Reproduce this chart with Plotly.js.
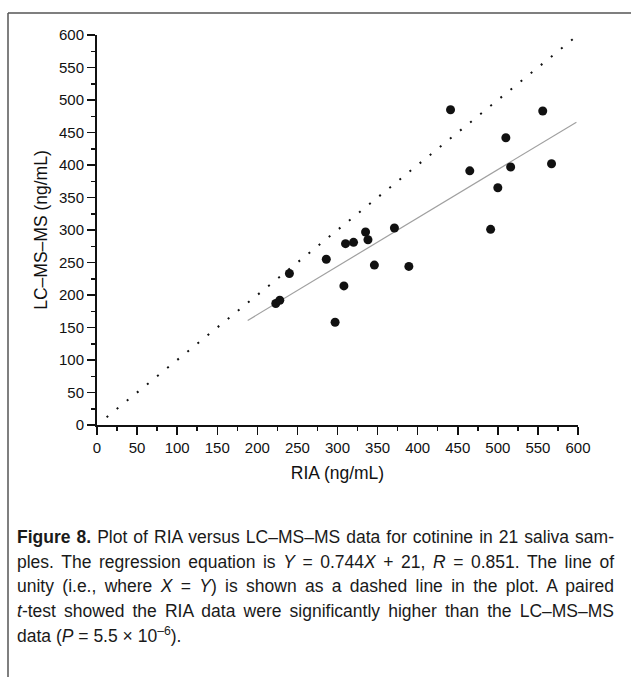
<!DOCTYPE html>
<html>
<head>
<meta charset="utf-8">
<script src="https://cdn.plot.ly/plotly-3.0.1.min.js"></script>
<style>
  html, body { margin: 0; padding: 0; background: #fff; }
  #chart { width: 631px; height: 677px; }
</style>
</head>
<body>
<div id="chart"></div>
<script>
// ---- data ----
const riaValues  = [223, 228, 240, 286, 297, 308, 310, 320, 335, 338, 346, 371, 389, 441, 465, 491, 500, 510, 516, 556, 567];
const lcmsValues = [187, 192, 233, 255, 158, 214, 279, 281, 297, 285, 246, 303, 244, 485, 391, 301, 365, 442, 397, 483, 402];

const regSlope = 0.744;
const regIntercept = 21;
const regXRange = [188, 598];     // extent of the drawn regression line
const unityXRange = [12, 597];    // extent of the drawn line of unity

const xTickValues = [0, 50, 100, 150, 200, 250, 300, 350, 400, 450, 500, 550, 600];
const yTickValues = [0, 50, 100, 150, 200, 250, 300, 350, 400, 450, 500, 550, 600];

const xAxisTitle = 'RIA (ng/mL)';
const yAxisTitle = 'LC–MS–MS (ng/mL)';

const captionLines = [
  '<b>Figure 8.</b> Plot of RIA versus LC–MS–MS data for cotinine in 21 saliva sam-',
  'ples. The regression equation is <i>Y</i> = 0.744<i>X</i> + 21, <i>R</i> = 0.851. The line of',
  'unity (i.e., where <i>X</i> = <i>Y</i>) is shown as a dashed line in the plot. A paired',
  '<i>t</i>-test showed the RIA data were significantly higher than the LC–MS–MS',
  'data (<i>P</i> = 5.5 × 10<sup>–6</sup>).'
];
const justifiedLines = [true, true, true, true, false];

// ---- layout geometry ----
const W = 631, H = 677;
const M = {l: 97, r: 53, t: 35, b: 252};
const plotW = W - M.l - M.r, plotH = H - M.t - M.b;
const px2x = px => (px - M.l) / plotW;
const px2y = py => (H - M.b - py) / plotH;
const captionLeft = 15, captionRight = 612;

const FONT = '"Liberation Sans", Arial, Helvetica, sans-serif';

const regY = regXRange.map(x => regSlope * x + regIntercept);

const traces = [
  {
    x: unityXRange, y: unityXRange, mode: 'lines', type: 'scatter',
    line: {color: '#111', width: 2, dash: '2px,11px'}, hoverinfo: 'skip', showlegend: false
  },
  {
    x: regXRange, y: regY, mode: 'lines', type: 'scatter',
    line: {color: '#a0a0a0', width: 1.2}, hoverinfo: 'skip', showlegend: false
  },
  {
    x: riaValues, y: lcmsValues, mode: 'markers', type: 'scatter',
    marker: {color: '#111', size: 9}, showlegend: false, cliponaxis: false
  }
];

function axisCommon(tickvals) {
  return {
    range: [0, 600], tickvals: tickvals, ticktext: tickvals.map(String),
    showline: true, linewidth: 2, linecolor: '#111', mirror: false,
    ticks: 'outside', ticklen: 8, tickwidth: 1.5, tickcolor: '#111',
    minor: {dtick: 25, tick0: 0, ticks: 'outside', ticklen: 4, tickwidth: 1.5, tickcolor: '#111', showgrid: false},
    showgrid: false, zeroline: false, fixedrange: true,
    tickfont: {family: FONT, size: 15, color: '#111'}
  };
}

const captionY = [537, 561.5, 586, 610.5, 635];
const annotations = captionLines.map((t, i) => ({
  text: t, xref: 'paper', yref: 'paper',
  x: px2x(captionLeft), y: px2y(captionY[i]), xanchor: 'left', yanchor: 'middle',
  showarrow: false, align: 'left',
  font: {family: FONT, size: 17.5, color: '#1a1a1a'}
}));

const shapes = [
  {type: 'line', xref: 'paper', yref: 'paper', x0: px2x(8), x1: px2x(8), y0: px2y(13), y1: px2y(H + 5),
   line: {color: '#555', width: 1.5}},
  {type: 'line', xref: 'paper', yref: 'paper', x0: px2x(8), x1: px2x(W + 5), y0: px2y(13), y1: px2y(13),
   line: {color: '#555', width: 1.5}}
];

const layout = {
  width: W, height: H, margin: M,
  paper_bgcolor: '#fff', plot_bgcolor: '#fff',
  showlegend: false,
  xaxis: Object.assign(axisCommon(xTickValues), {
    title: {text: xAxisTitle, font: {family: FONT, size: 17.5, color: '#111'}, standoff: 12}
  }),
  yaxis: Object.assign(axisCommon(yTickValues), {
    title: {text: yAxisTitle, font: {family: FONT, size: 17.5, color: '#111'}, standoff: 7}
  }),
  annotations: annotations,
  shapes: shapes
};

Plotly.newPlot('chart', traces, layout, {displayModeBar: false, staticPlot: true}).then(function () {
  // justify the caption lines like the printed figure legend
  const groups = document.querySelectorAll('#chart g.annotation');
  groups.forEach(function (g) {
    const idx = +g.getAttribute('data-index');
    if (!justifiedLines[idx]) return;
    const t = g.querySelector('text.annotation-text');
    if (!t) return;
    const w = t.getComputedTextLength();
    const spaces = (t.textContent.match(/ /g) || []).length;
    const target = captionRight - captionLeft;
    if (spaces > 0 && w < target) t.style.wordSpacing = ((target - w) / spaces).toFixed(2) + 'px';
  });
});
</script>
</body>
</html>
